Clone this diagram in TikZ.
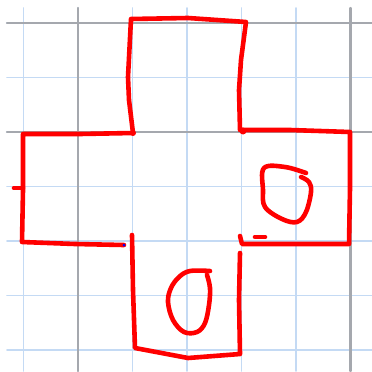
\documentclass[tikz,border=0pt]{standalone}
\usepackage{tikz}
\definecolor{gridblue}{RGB}{196,218,244}
\definecolor{gridgray}{RGB}{165,168,174}
\definecolor{penred}{RGB}{255,0,0}
\begin{document}
\begin{tikzpicture}[x=0.018349cm, y=-0.018349cm, line cap=round, line join=round]
      \tikzset{minorline/.style={gridblue, line width=0.9pt},
               majorline/.style={gridgray, line width=1.2pt},
               pen/.style={penred, line width=2.4pt}}
      \useasboundingbox (0,0) rectangle (372,371);
      \fill[white] (0,0) rectangle (372,371);
      % grid paper
      \foreach \k in {0,...,6} {
        \draw[minorline] ({23.5+54.5*\k},8) -- ({23.5+54.5*\k},371);
        \draw[minorline] (7,{23+54.5*\k}) -- (372,{23+54.5*\k});
      }
      \foreach \k in {1,6} \draw[majorline] ({23.5+54.5*\k},8) -- ({23.5+54.5*\k},371);
      \foreach \k in {0,2} \draw[majorline] (7,{23+54.5*\k}) -- (372,{23+54.5*\k});
      % cross outline
      \draw[pen] (124,245) -- (75,244) -- (22,242) -- (23,190) -- (23,134)
        -- (80,134) -- (133,133) -- (129,100) -- (128,77) -- (131,19)
        -- (188,18) -- (246,22) -- (241,60) -- (239,90) -- (240,130)
        -- (290,130) -- (350,132) -- (350,188) -- (349,244)
        -- (300,244) -- (242,244) -- (240,236);
      \draw[pen] (132,235) -- (133,290) -- (135,348) -- (188,358)
        -- (240,354) -- (239,300) -- (240,253);
      \draw[pen] (14,188) -- (23,188);
      \draw[pen] (255,237) -- (265,237);
      \fill[penred] (133,133) circle[radius=3];
      \fill[penred] (243,131) circle[radius=3.5];
      \fill[blue] (124,245) circle[radius=1.5];
      % the two loops
      \draw[pen] plot[smooth, tension=0.6] coordinates {(306,173) (285,167)
        (264,168) (263,190) (265,207) (282,219) (297,222) (306,212)
        (311,192) (309,182) (301,177)};
      \draw[pen] plot[smooth, tension=0.6] coordinates {(210,271) (190,271)
        (179,277) (171,288) (168,302) (173,320) (184,332) (197,332)
        (205,323) (209,305) (210,288) (207,275)};
    \end{tikzpicture}
\end{document}
